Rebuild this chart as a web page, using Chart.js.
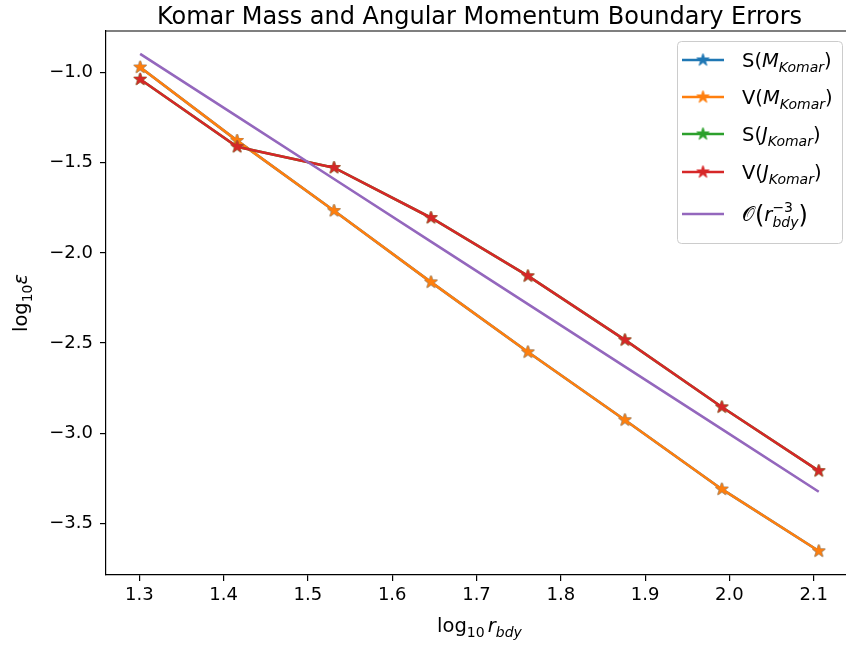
<!DOCTYPE html>
<html>
<head>
<meta charset="utf-8">
<script src="https://cdn.jsdelivr.net/npm/chart.js@4.4.0/dist/chart.umd.min.js"></script>
<style>
  body { margin: 0; background: #fff; }
  #komarChart { display: block; }
</style>
</head>
<body>
<canvas id="komarChart" width="846" height="648"></canvas>
<script>
// log10 of the boundary radius
const logR = [1.301, 1.416, 1.531, 1.646, 1.761, 1.876, 1.991, 2.106];
// log10 of the error, surface (S) and volume (V) Komar integrals
const massS = [-0.970, -1.377, -1.766, -2.162, -2.550, -2.927, -3.311, -3.654];
const massV = [-0.970, -1.377, -1.766, -2.162, -2.550, -2.927, -3.311, -3.654];
const angS = [-1.037, -1.411, -1.527, -1.805, -2.128, -2.483, -2.855, -3.209];
const angV = [-1.037, -1.411, -1.527, -1.805, -2.128, -2.483, -2.855, -3.209];
// reference slope O(r^-3)
const refCubic = [-0.896, -1.243, -1.590, -1.937, -2.284, -2.631, -2.978, -3.325];

const xTicks = [1.3, 1.4, 1.5, 1.6, 1.7, 1.8, 1.9, 2.0, 2.1];
const yTicks = [-1.0, -1.5, -2.0, -2.5, -3.0, -3.5];

const FONT = '"DejaVu Sans", Verdana, sans-serif';
const colors = {
    blue: '#1f77b4',
    orange: '#ff7f0e',
    green: '#2ca02c',
    red: '#d62728',
    purple: '#9467bd'
};

function toPoints(ys) {
    return logR.map((x, i) => ({ x: x, y: ys[i] }));
}

// filled five-pointed star, used as point marker
function makeStar(color, r) {
    const size = Math.ceil(r * 2 + 4);
    const c = document.createElement('canvas');
    c.width = size;
    c.height = size;
    const g = c.getContext('2d');
    const cx = size / 2, cy = size / 2;
    const inner = r * 0.382;
    g.beginPath();
    for (let i = 0; i < 10; i++) {
        const rad = i % 2 === 0 ? r : inner;
        const a = -Math.PI / 2 + i * Math.PI / 5;
        const px = cx + rad * Math.cos(a);
        const py = cy + rad * Math.sin(a);
        if (i === 0) g.moveTo(px, py); else g.lineTo(px, py);
    }
    g.closePath();
    g.fillStyle = color;
    g.fill();
    g.strokeStyle = color;
    g.lineWidth = 1;
    g.stroke();
    return c;
}

// small helper for mathtext-like labels (italics, sub/superscripts)
const MAIN = 19.5;
const SUB = 14;

function setFont(ctx, r) {
    ctx.font = (r.it ? 'italic ' : '') + (r.sz || MAIN) + 'px ' + FONT;
}

function runsWidth(ctx, runs) {
    let w = 0, pending = 0;
    runs.forEach(r => {
        setFont(ctx, r);
        const rw = ctx.measureText(r.t).width;
        if (r.over) { pending = rw; return; }
        w += Math.max(rw, pending);
        pending = 0;
    });
    return w;
}

function drawRuns(ctx, runs, x, y) {
    let cx = x, pending = 0;
    runs.forEach(r => {
        setFont(ctx, r);
        const rw = ctx.measureText(r.t).width;
        ctx.fillText(r.t, cx, y + (r.dy || 0));
        if (r.over) { pending = rw; return; }
        cx += Math.max(rw, pending);
        pending = 0;
    });
}

const legendItems = [
    { color: colors.blue, marker: true, runs: [{ t: 'S(' }, { t: 'M', it: 1 }, { t: 'Komar', it: 1, sz: SUB, dy: 5 }, { t: ')' }] },
    { color: colors.orange, marker: true, runs: [{ t: 'V(' }, { t: 'M', it: 1 }, { t: 'Komar', it: 1, sz: SUB, dy: 5 }, { t: ')' }] },
    { color: colors.green, marker: true, runs: [{ t: 'S(' }, { t: 'J', it: 1 }, { t: 'Komar', it: 1, sz: SUB, dy: 5 }, { t: ')' }] },
    { color: colors.red, marker: true, runs: [{ t: 'V(' }, { t: 'J', it: 1 }, { t: 'Komar', it: 1, sz: SUB, dy: 5 }, { t: ')' }] },
    { color: colors.purple, marker: false, runs: [{ t: '\u{1D4AA}' }, { t: '(', sz: 24, dy: 1.5 }, { t: 'r', it: 1 }, { t: '\u22123', sz: SUB, dy: -9, over: 1 }, { t: 'bdy', it: 1, sz: SUB, dy: 5.5 }, { t: ')', sz: 24, dy: 1.5 }] }
];
const legendRows = [60, 97, 134, 172, 214];

const decorations = {
    id: 'decorations',
    afterDraw(chart) {
        const ctx = chart.ctx;
        const area = chart.chartArea;
        ctx.save();

        // top spine
        ctx.strokeStyle = '#000';
        ctx.lineWidth = 1.2;
        ctx.beginPath();
        ctx.moveTo(area.left, area.top);
        ctx.lineTo(area.right, area.top);
        ctx.stroke();

        ctx.fillStyle = '#000';
        ctx.textBaseline = 'alphabetic';

        // title
        ctx.font = '24px ' + FONT;
        ctx.textAlign = 'center';
        ctx.fillText('Komar Mass and Angular Momentum Boundary Errors', 479.5, 24);
        ctx.textAlign = 'left';

        // x axis label
        const xl = [{ t: 'log' }, { t: '10', sz: SUB, dy: 5 }, { t: ' ', sz: 10 }, { t: 'r', it: 1 }, { t: 'bdy', it: 1, sz: SUB, dy: 5 }];
        drawRuns(ctx, xl, 479.5 - runsWidth(ctx, xl) / 2, 632);

        // y axis label
        const yl = [{ t: 'log' }, { t: '10', sz: SUB, dy: 5 }, { t: '\u03b5', it: 1 }];
        ctx.save();
        ctx.translate(27, 303);
        ctx.rotate(-Math.PI / 2);
        drawRuns(ctx, yl, -runsWidth(ctx, yl) / 2, 0);
        ctx.restore();

        // legend
        ctx.beginPath();
        ctx.roundRect(677.5, 41.5, 165, 202, 4);
        ctx.fillStyle = 'rgba(255,255,255,0.8)';
        ctx.fill();
        ctx.strokeStyle = '#cccccc';
        ctx.lineWidth = 1;
        ctx.stroke();

        legendItems.forEach((item, i) => {
            const y = legendRows[i];
            ctx.strokeStyle = item.color;
            ctx.lineWidth = 2.6;
            ctx.beginPath();
            ctx.moveTo(682, y);
            ctx.lineTo(724, y);
            ctx.stroke();
            if (item.marker) {
                const s = starImgs[item.color];
                ctx.drawImage(s, 703 - s.width / 2, y - s.height / 2);
            }
            ctx.fillStyle = '#000';
            drawRuns(ctx, item.runs, 742, y + 7);
        });

        ctx.restore();
    }
};

const starImgs = {};
Object.values(colors).forEach(c => { starImgs[c] = makeStar(c, 6.5); });

function series(label, ys, color, order, marker) {
    return {
        label: label,
        data: toPoints(ys),
        borderColor: color,
        backgroundColor: color,
        borderWidth: 2.6,
        pointStyle: marker ? starImgs[color] : false,
        pointRadius: marker ? 6 : 0,
        tension: 0,
        order: order
    };
}

const ctx = document.getElementById('komarChart').getContext('2d');
new Chart(ctx, {
    type: 'line',
    data: {
        datasets: [
            series('S(M_Komar)', massS, colors.blue, 5, true),
            series('V(M_Komar)', massV, colors.orange, 4, true),
            series('S(J_Komar)', angS, colors.green, 3, true),
            series('V(J_Komar)', angV, colors.red, 2, true),
            series('O(r_bdy^-3)', refCubic, colors.purple, 1, false)
        ]
    },
    options: {
        responsive: false,
        animation: false,
        devicePixelRatio: 1,
        layout: { autoPadding: false, padding: { top: 31, left: 0, right: 0, bottom: 0 } },
        plugins: {
            legend: { display: false },
            title: { display: false },
            tooltip: { enabled: false }
        },
        scales: {
            x: {
                type: 'linear',
                min: 1.2605,
                max: 2.1383,
                afterFit: scale => {
                    scale.height = 73;
                    scale.paddingLeft = 0;
                    scale.paddingRight = 0;
                },
                afterBuildTicks: scale => { scale.ticks = xTicks.map(v => ({ value: v })); },
                ticks: {
                    font: { family: FONT, size: 18 },
                    color: '#000',
                    padding: 4,
                    maxRotation: 0,
                    callback: v => v.toFixed(1)
                },
                grid: { drawOnChartArea: false, drawTicks: true, tickLength: 6, color: '#000', lineWidth: 1.2 },
                border: { display: true, color: '#000', width: 1.2 }
            },
            y: {
                type: 'linear',
                min: -3.787,
                max: -0.769,
                afterFit: scale => {
                    scale.width = 106;
                    scale.paddingTop = 0;
                    scale.paddingBottom = 0;
                },
                afterBuildTicks: scale => { scale.ticks = yTicks.map(v => ({ value: v })); },
                ticks: {
                    font: { family: FONT, size: 18 },
                    color: '#000',
                    padding: 7,
                    callback: v => v.toFixed(1).replace('-', '\u2212')
                },
                grid: { drawOnChartArea: false, drawTicks: true, tickLength: 6, color: '#000', lineWidth: 1.2 },
                border: { display: true, color: '#000', width: 1.2 }
            }
        }
    },
    plugins: [decorations]
});
</script>
</body>
</html>
